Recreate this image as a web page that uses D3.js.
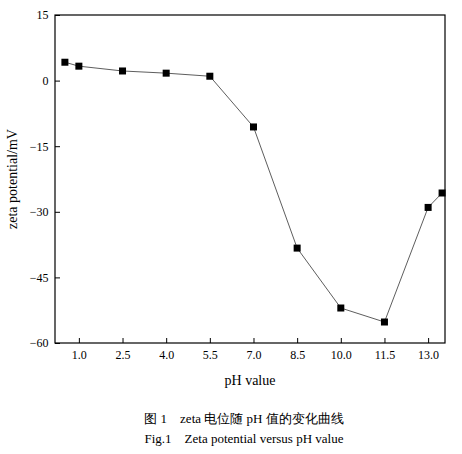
<!DOCTYPE html><html><head><meta charset="utf-8"><script src="https://cdn.jsdelivr.net/npm/d3@7"></script>
<style>body{margin:0;background:#fff}text{font-family:"Liberation Serif","Times New Roman",serif}</style></head><body>
<svg id="c" width="462" height="454"></svg>
<script>
const phValues=[0.52,1.0,2.5,4.0,5.5,7.0,8.5,10.0,11.5,13.0,13.48];
const zeta=[4.2,3.3,2.2,1.7,1.0,-10.6,-38.3,-52.0,-55.2,-29.0,-25.7];
const xTicks=[1.0,2.5,4.0,5.5,7.0,8.5,10.0,11.5,13.0];
const yTicks=[15,0,-15,-30,-45,-60];
const svg=d3.select("#c");
const L=55,R=445,T=15,B=343;
const x=d3.scaleLinear().domain([0.18,13.58]).range([L,R]);
const y=d3.scaleLinear().domain([-60,15]).range([B,T]);
svg.append("rect").attr("x",L).attr("y",T).attr("width",R-L).attr("height",B-T).attr("fill","none").attr("stroke","#000").attr("stroke-width",1.2);
const ax=svg.append("g").attr("transform",`translate(0,${B})`).call(d3.axisBottom(x).tickValues(xTicks).tickFormat(d3.format(".1f")).tickSize(-5).tickSizeOuter(0));
const ay=svg.append("g").attr("transform",`translate(${L},0)`).call(d3.axisLeft(y).tickValues(yTicks).tickFormat(d3.format("d")).tickSize(-5).tickSizeOuter(0));
[ax,ay].forEach(a=>{a.select(".domain").remove();a.selectAll("text").attr("font-size",12).attr("font-family","Liberation Serif");});
ax.selectAll("text").attr("dy","1.1em");
ay.selectAll("text").attr("dx","-0.3em");
const pts=phValues.map((v,i)=>[v,zeta[i]]);
svg.append("path").attr("d",d3.line().x(d=>x(d[0])).y(d=>y(d[1]))(pts)).attr("fill","none").attr("stroke","#333").attr("stroke-width",0.8);
svg.selectAll("rect.m").data(pts).enter().append("rect").attr("class","m").attr("x",d=>x(d[0])-3.5).attr("y",d=>y(d[1])-3.5).attr("width",7).attr("height",7).attr("fill","#000");
svg.append("text").attr("x",250).attr("y",385).attr("text-anchor","middle").attr("font-size",14).text("pH value");
svg.append("text").attr("transform","translate(17,179) rotate(-90)").attr("text-anchor","middle").attr("font-size",14).text("zeta potential/mV");
svg.append("text").attr("x",244).attr("y",423).attr("text-anchor","middle").attr("font-size",13).text("图 1　zeta 电位随 pH 值的变化曲线");
svg.append("text").attr("x",244).attr("y",443).attr("text-anchor","middle").attr("font-size",13).text("Fig.1　Zeta potential versus pH value");
</script></body></html>
